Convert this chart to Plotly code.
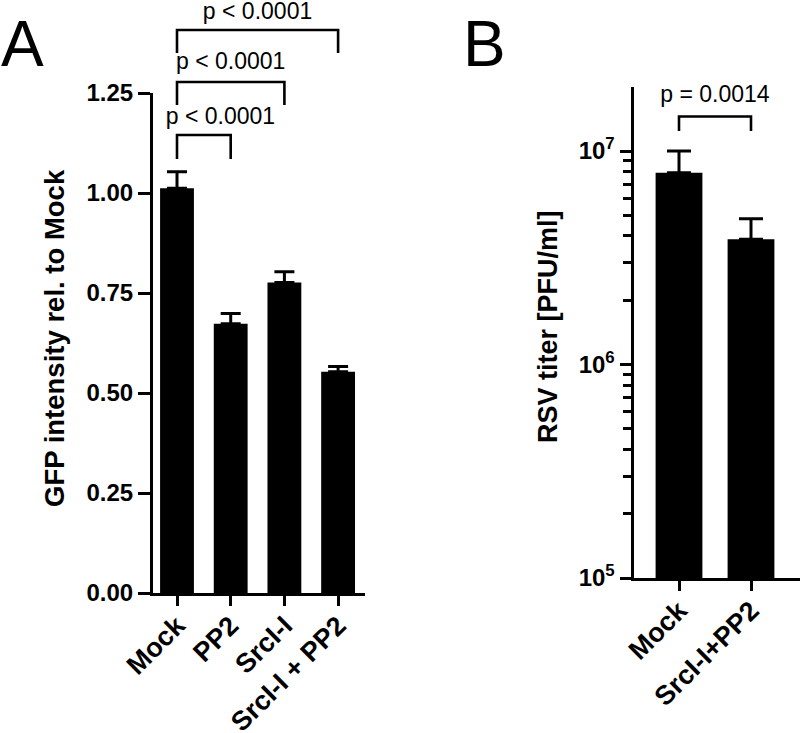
import plotly.graph_objects as go

# ---------------- data ----------------
cats_a = ["Mock", "PP2", "SrcI-I", "SrcI-I + PP2"]
gfp_mean = [1.012, 0.673, 0.776, 0.553]
gfp_err = [0.041, 0.026, 0.027, 0.013]
yticks_a = [0.00, 0.25, 0.50, 0.75, 1.00, 1.25]
yticktext_a = ["0.00", "0.25", "0.50", "0.75", "1.00", "1.25"]

# brackets panel A: (from index, to index, top value, leg bottom value)
brk_a_from = [0, 0, 0]
brk_a_to = [1, 2, 3]
brk_a_top = [1.145, 1.2775, 1.4075]
brk_a_leg = [1.085, 1.22, 1.35]
brk_a_label = ["p < 0.0001", "p < 0.0001", "p < 0.0001"]
brk_a_label_x = [0.81, 1.0, 1.5]
brk_a_label_y = [1.1875, 1.324, 1.45]

cats_b = ["Mock", "SrcI-I+PP2"]
rsv_mean = [7.9e6, 3.86e6]
rsv_err = [2.1e6, 0.96e6]
yticks_b = [1e5, 1e6, 1e7]
yticktext_b = ["10<sup>5</sup>", "10<sup>6</sup>", "10<sup>7</sup>"]
brk_b_top = 1.45e7
brk_b_leg = 1.24e7
brk_b_label = "p = 0.0014"
brk_b_label_y = 1.80e7

# ---------------- figure ----------------
W, H = 800, 733
FONT = "Liberation Sans, Arial, sans-serif"


def px(x):
    return x / W


def py(y):
    return 1 - y / H


fig = go.Figure()

fig.add_trace(go.Bar(
    x=list(range(len(cats_a))), y=gfp_mean, width=0.63,
    marker=dict(color="black", line=dict(width=0)),
    error_y=dict(type="data", array=gfp_err, arrayminus=[0] * len(gfp_err),
                 symmetric=False, color="black", thickness=3, width=10),
    xaxis="x", yaxis="y", showlegend=False, hoverinfo="skip"))

# brackets on an invisible companion axis with the same scale, extended upward
for i in range(len(brk_a_from)):
    a, b = brk_a_from[i], brk_a_to[i]
    fig.add_trace(go.Scatter(
        x=[a, a, b, b], y=[brk_a_leg[i], brk_a_top[i], brk_a_top[i], brk_a_leg[i]],
        mode="lines", line=dict(color="black", width=2.6), cliponaxis=False,
        xaxis="x", yaxis="y3", showlegend=False, hoverinfo="skip"))
fig.add_trace(go.Scatter(
    x=brk_a_label_x, y=brk_a_label_y, text=brk_a_label, mode="text",
    textposition="middle center",
    textfont=dict(family=FONT, size=23, color="black"), cliponaxis=False,
    xaxis="x", yaxis="y3", showlegend=False, hoverinfo="skip"))

fig.add_trace(go.Bar(
    x=list(range(len(cats_b))), y=rsv_mean, width=0.65,
    marker=dict(color="black", line=dict(width=0)),
    error_y=dict(type="data", array=rsv_err, arrayminus=[0] * len(rsv_err),
                 symmetric=False, color="black", thickness=3, width=12),
    xaxis="x2", yaxis="y2", showlegend=False, hoverinfo="skip"))

fig.add_trace(go.Scatter(
    x=[0, 0, 1, 1], y=[brk_b_leg, brk_b_top, brk_b_top, brk_b_leg],
    mode="lines", line=dict(color="black", width=2.6), cliponaxis=False,
    xaxis="x2", yaxis="y2", showlegend=False, hoverinfo="skip"))
fig.add_trace(go.Scatter(
    x=[0.5], y=[brk_b_label_y], text=[brk_b_label], mode="text",
    textposition="middle center",
    textfont=dict(family=FONT, size=23, color="black"), cliponaxis=False,
    xaxis="x2", yaxis="y2", showlegend=False, hoverinfo="skip"))

tickfont = dict(family=FONT, size=24, color="black", weight="bold")
catfont = dict(family=FONT, size=27, color="black", weight="bold")
axis_common = dict(showline=True, linewidth=3, linecolor="black", ticks="outside",
                   tickwidth=3, tickcolor="black", showgrid=False, zeroline=False,
                   mirror=False, automargin=False)

a_left, a_right = 153, 365
a_c0, a_step = 177, 53.7
a_y0, a_y125 = 593, 93          # pixel rows of 0.00 and 1.25
a_scale = (a_y0 - a_y125) / 1.25
b_left, b_right = 633.5, 800
b_c0, b_step = 679, 72

fig.update_layout(
    width=W, height=H, margin=dict(l=0, r=0, t=0, b=0, autoexpand=False),
    paper_bgcolor="white", plot_bgcolor="rgba(0,0,0,0)",
    font=dict(family=FONT, color="black"),
    xaxis=dict(domain=[px(a_left), px(a_right)],
               range=[(a_left - a_c0) / a_step, (a_right - a_c0) / a_step],
               tickvals=list(range(len(cats_a))), ticktext=cats_a, tickangle=-45,
               ticklen=10, tickfont=catfont, anchor="y", ticklabelstandoff=-7,
               **axis_common),
    yaxis=dict(domain=[py(a_y0), py(a_y125)], range=[0, 1.25],
               tickvals=yticks_a, ticktext=yticktext_a, ticklen=12,
               tickfont=tickfont, anchor="x", **axis_common),
    yaxis3=dict(domain=[py(a_y0), 1.0], range=[0, a_y0 / a_scale], visible=False,
                anchor="x", showgrid=False, zeroline=False),
    xaxis2=dict(domain=[px(b_left), px(b_right)],
                range=[(b_left - b_c0) / b_step, (b_right - b_c0) / b_step],
                tickvals=list(range(len(cats_b))), ticktext=cats_b, tickangle=-45,
                ticklen=10, tickfont=catfont, anchor="y2", ticklabelstandoff=-7,
                **axis_common),
    yaxis2=dict(domain=[py(578), py(87)], type="log", range=[5, 5 + 491 / 213.5],
                tickvals=yticks_b, ticktext=yticktext_b, ticklen=11,
                tickfont=tickfont, anchor="x2",
                minor=dict(ticks="outside", dtick="D1", ticklen=8, tickwidth=3,
                           tickcolor="black", showgrid=False),
                **axis_common),
    annotations=[
        dict(text="GFP intensity rel. to Mock", x=px(55), y=py(338), xref="paper",
             yref="paper", textangle=-90, showarrow=False, xanchor="center",
             yanchor="middle", font=dict(family=FONT, size=27.5, color="black", weight="bold")),
        dict(text="RSV titer [PFU/ml]", x=px(548), y=py(327), xref="paper",
             yref="paper", textangle=-90, showarrow=False, xanchor="center",
             yanchor="middle", font=dict(family=FONT, size=27, color="black", weight="bold")),
        dict(text="A", x=px(22), y=py(44), xref="paper", yref="paper", showarrow=False,
             xanchor="center", yanchor="middle", font=dict(family=FONT, size=64, color="black")),
        dict(text="B", x=px(485), y=py(44), xref="paper", yref="paper", showarrow=False,
             xanchor="center", yanchor="middle", font=dict(family=FONT, size=64, color="black")),
    ],
)

fig.write_html("out.html", config={"displayModeBar": False},
               post_script="document.body.style.margin='0';document.body.style.padding='0';")
